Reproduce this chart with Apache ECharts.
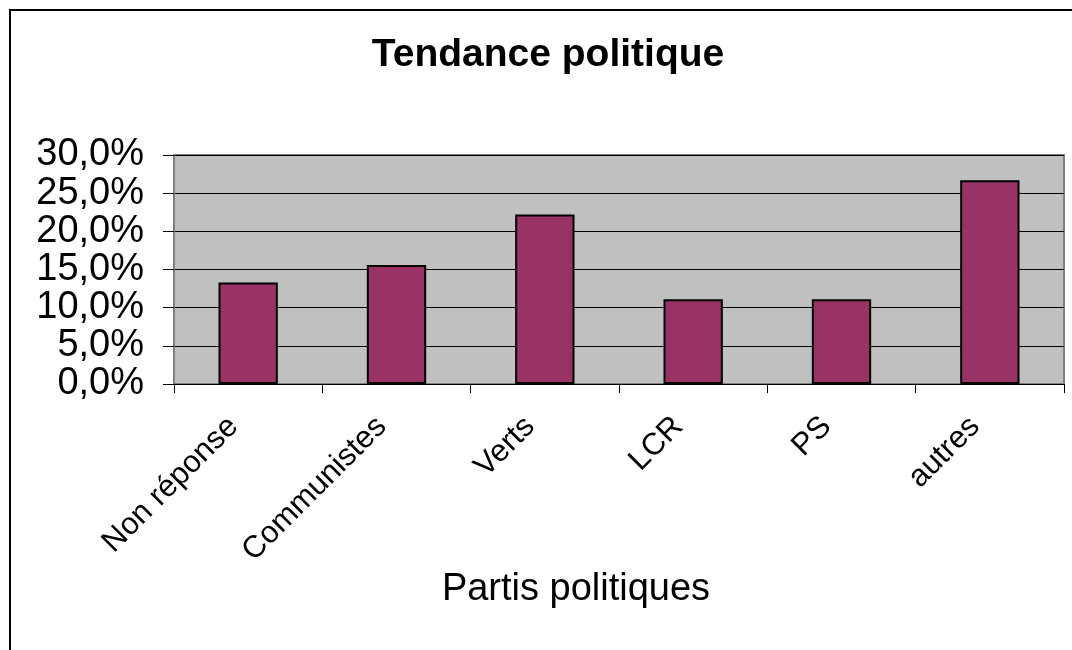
<!DOCTYPE html>
<html>
<head>
<meta charset="utf-8">
<script src="https://cdn.jsdelivr.net/npm/echarts@6/dist/echarts.min.js"></script>
<style>
  html, body { margin: 0; padding: 0; background: #fff; overflow: hidden; }
  #chart { width: 1072px; height: 650px; }
</style>
</head>
<body>
<div id="chart"></div>
<script>
const partis = ['Non réponse', 'Communistes', 'Verts', 'LCR', 'PS', 'autres'];
const pourcentages = [13.3, 15.6, 22.2, 11.1, 11.1, 26.7];

function renderChart() {
    const chart = echarts.init(document.getElementById('chart'));
    const font = '"Liberation Sans", Arial, sans-serif';

    const option = {
        animation: false,
        textStyle: { fontFamily: font },
        // outer frame: only the top and left edges fall inside the picture
        graphic: [{
            type: 'polyline',
            shape: { points: [[10, 650], [10, 10], [1072, 10]] },
            style: { stroke: '#000', lineWidth: 2, fill: null }
        }],
        title: [
            {
                text: 'Tendance politique',
                left: 543, top: 31, textAlign: 'center',
                textStyle: { fontFamily: font, fontSize: 39, fontWeight: 'bold', color: '#000' }
            },
            {
                text: 'Partis politiques',
                left: 571, top: 566, textAlign: 'center',
                textStyle: { fontFamily: font, fontSize: 38, fontWeight: 'normal', color: '#000' }
            }
        ],
        grid: {
            left: 174, right: 8, top: 155, bottom: 266,
            show: true,
            backgroundColor: '#C0C0C0',
            borderColor: '#808080',
            borderWidth: 2
        },
        xAxis: {
            type: 'category',
            data: partis,
            axisLine: { lineStyle: { color: '#000', width: 1 } },
            axisTick: { show: true, length: 9, lineStyle: { color: '#000' } },
            axisLabel: {
                rotate: 45, margin: 23, interval: 0,
                padding: [0, 21, 0, 0],
                fontSize: 31, color: '#000', fontFamily: font
            }
        },
        yAxis: {
            type: 'value',
            min: 0, max: 30, interval: 5,
            axisLine: { show: true, lineStyle: { color: '#808080', width: 2 } },
            axisTick: { show: true, length: 11, lineStyle: { color: '#000' } },
            splitLine: { show: true, lineStyle: { color: '#000', width: 1 } },
            axisLabel: {
                margin: 30, fontSize: 38, color: '#000', fontFamily: font,
                formatter: v => v.toFixed(1).replace('.', ',') + '%'
            }
        },
        series: [{
            type: 'bar',
            data: pourcentages,
            barWidth: '40%',
            itemStyle: { color: '#993366', borderColor: '#000', borderWidth: 2 }
        }]
    };

    chart.setOption(option);
}

document.addEventListener('DOMContentLoaded', renderChart);
</script>
</body>
</html>
